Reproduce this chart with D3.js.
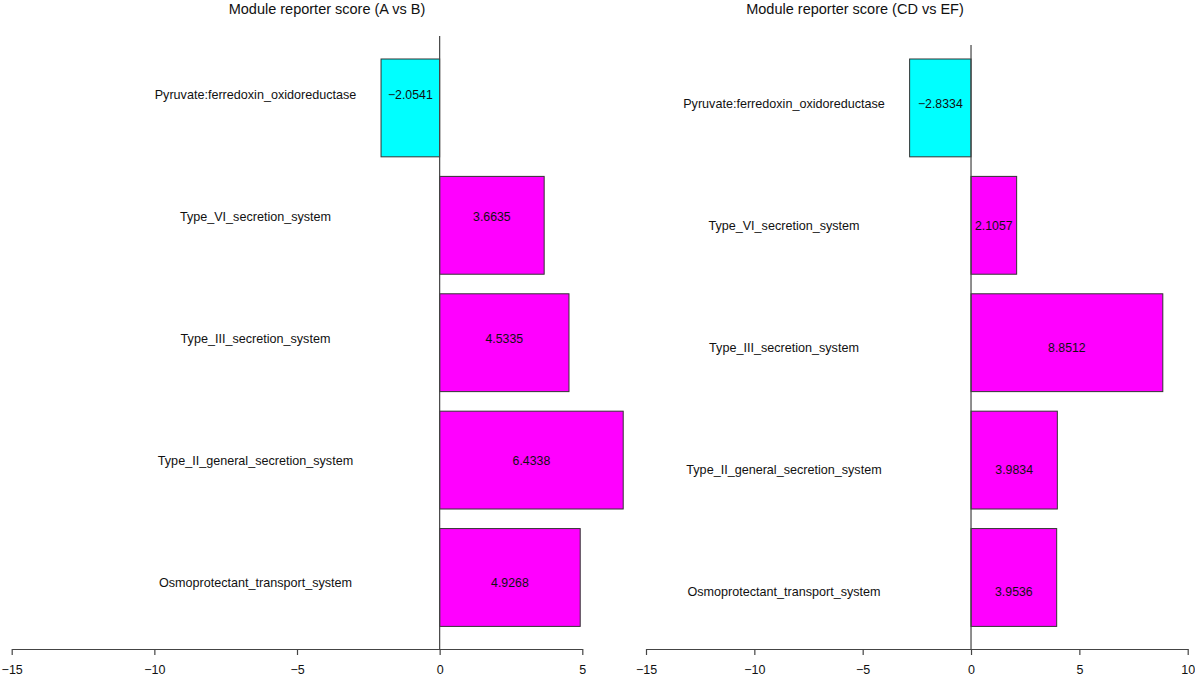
<!doctype html>
<html>
<head>
<meta charset="utf-8"/>
<title>Module reporter score</title>
<script src="https://d3js.org/d3.v7.min.js"></script>
<style>
body { margin:0; background:#fff; }
text { font-family: "Liberation Sans", Arial, sans-serif; fill:#111; }
</style>
</head>
<body>
<script type="text/javascript">
// data
var categories = ["Pyruvate:ferredoxin_oxidoreductase", "Type_VI_secretion_system",
  "Type_III_secretion_system", "Type_II_general_secretion_system", "Osmoprotectant_transport_system"];
var scoresAB = [-2.0541, 3.6635, 4.5335, 6.4338, 4.9268];
var scoresCDEF = [-2.8334, 2.1057, 8.8512, 3.9834, 3.9536];
var ticksAB = [-15, -10, -5, 0, 5];
var ticksCDEF = [-15, -10, -5, 0, 5, 10];
var titleAB = "Module reporter score (A vs B)";
var titleCDEF = "Module reporter score (CD vs EF)";

var svg = d3.select("body").append("svg")
  .attr("width", 1195)
  .attr("height", 677);

var axisY = 649;
var yBar = d3.scaleBand().domain(categories).range([59, 626.4]).paddingInner(1/6).paddingOuter(0);

function Painel(p) {
  var g = svg.append("g");
  var x = d3.scaleLinear().domain([p.ticks[0], p.ticks[p.ticks.length - 1]]).range(p.xr);
  var yTxt = d3.scalePoint().domain(categories).range(p.tr);

  g.append("text")
    .attr("x", p.titleX).attr("y", 14)
    .attr("text-anchor", "middle")
    .style("font-size", "14.5px")
    .text(p.title);

  // bars
  g.selectAll("rect").data(p.values).enter().append("rect")
    .attr("x", function(d) { return x(Math.min(0, d)); })
    .attr("y", function(d, i) { return yBar(categories[i]); })
    .attr("width", function(d) { return Math.abs(x(d) - x(0)); })
    .attr("height", yBar.bandwidth())
    .attr("fill", function(d) { return d < 0 ? "#00ffff" : "#ff00ff"; })
    .attr("stroke", "#333")
    .attr("stroke-width", 1);

  // zero line
  g.append("line")
    .attr("x1", x(0)).attr("x2", x(0))
    .attr("y1", p.zeroTop).attr("y2", axisY)
    .attr("stroke", "#444").attr("stroke-width", 1.2);

  // category labels
  g.selectAll(".lab").data(categories).enter().append("text")
    .attr("class", "lab")
    .attr("x", p.labelX)
    .attr("y", function(d) { return yTxt(d); })
    .attr("dy", "0.35em")
    .attr("text-anchor", "middle")
    .style("font-size", "12.6px")
    .text(function(d) { return d; });

  // value labels
  g.selectAll(".val").data(p.values).enter().append("text")
    .attr("class", "val")
    .attr("x", function(d) { return (x(d) + x(0)) / 2; })
    .attr("y", function(d, i) { return yTxt(categories[i]); })
    .attr("dy", "0.35em")
    .attr("text-anchor", "middle")
    .style("font-size", "12.3px")
    .text(function(d) { return String(d).replace("-", "\u2212"); });

  // axis
  var ax = g.append("g").attr("transform", "translate(0," + axisY + ")")
    .call(d3.axisBottom(x).tickValues(p.ticks).tickSizeInner(6).tickSizeOuter(0).tickPadding(10));
  ax.select(".domain").attr("stroke", "#444").attr("stroke-width", 1.2);
  ax.selectAll(".tick line").attr("stroke", "#444").attr("stroke-width", 1.2);
  ax.selectAll(".tick text")
    .style("font-family", "'Liberation Sans', Arial, sans-serif")
    .style("font-size", "12.5px")
    .attr("fill", "#111");
}

Painel({ values: scoresAB, ticks: ticksAB, xr: [11.7, 582.3], tr: [95, 583],
  title: titleAB, titleX: 327, labelX: 255.5, zeroTop: 36 });
Painel({ values: scoresCDEF, ticks: ticksCDEF, xr: [646, 1187.7], tr: [104, 592],
  title: titleCDEF, titleX: 855, labelX: 784, zeroTop: 45 });
</script>
</body>
</html>
